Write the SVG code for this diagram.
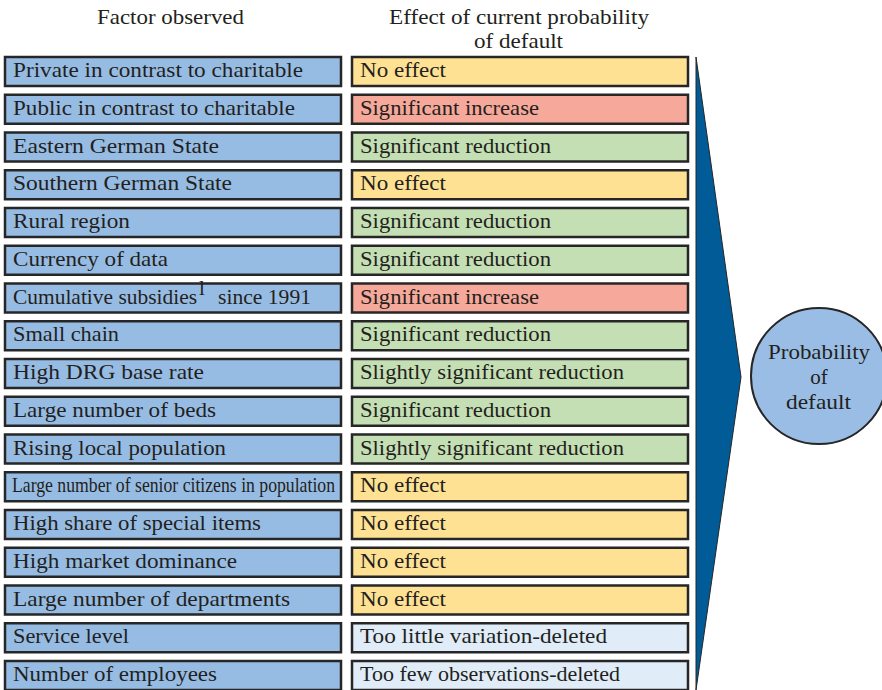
<svg xmlns="http://www.w3.org/2000/svg" width="882" height="690" viewBox="0 0 882 690">
<style>
text{font-family:"Liberation Serif","Times New Roman","DejaVu Serif",serif;font-size:21px;fill:#231f20}
.b{stroke:#262626;stroke-width:2.5}
.f{fill:#97bce3}.y{fill:#ffe194}.r{fill:#f6a99b}.g{fill:#c5dfb4}.l{fill:#e0ecf7}
.h{text-anchor:middle}
</style>
<rect width="882" height="690" fill="#fff"/>
<text class="h" x="170.5" y="24" textLength="147" lengthAdjust="spacingAndGlyphs">Factor observed</text>
<text class="h" x="519" y="24" textLength="260" lengthAdjust="spacingAndGlyphs">Effect of current probability</text>
<text class="h" x="518.5" y="48" textLength="89" lengthAdjust="spacingAndGlyphs">of default</text>
<g id="connectors">
<path d="M696,57 L741,377 L696,690 Z" fill="#005b96" stroke="#262626" stroke-width="1"/>
</g>
<g id="rows">
<g id="r1"><rect class="b f" x="5" y="57" width="336" height="29"/><text x="13" y="77" textLength="290" lengthAdjust="spacingAndGlyphs">Private in contrast to charitable</text><rect class="b y" x="352" y="57" width="336" height="29"/><text x="360" y="77" textLength="86" lengthAdjust="spacingAndGlyphs">No effect</text></g>
<g id="r2"><rect class="b f" x="5" y="94.75" width="336" height="29"/><text x="13" y="114.75" textLength="282" lengthAdjust="spacingAndGlyphs">Public in contrast to charitable</text><rect class="b r" x="352" y="94.75" width="336" height="29"/><text x="360" y="114.75" textLength="179" lengthAdjust="spacingAndGlyphs">Significant increase</text></g>
<g id="r3"><rect class="b f" x="5" y="132.5" width="336" height="29"/><text x="13" y="152.5" textLength="206" lengthAdjust="spacingAndGlyphs">Eastern German State</text><rect class="b g" x="352" y="132.5" width="336" height="29"/><text x="360" y="152.5" textLength="191" lengthAdjust="spacingAndGlyphs">Significant reduction</text></g>
<g id="r4"><rect class="b f" x="5" y="170.25" width="336" height="29"/><text x="13" y="190.25" textLength="219" lengthAdjust="spacingAndGlyphs">Southern German State</text><rect class="b y" x="352" y="170.25" width="336" height="29"/><text x="360" y="190.25" textLength="86" lengthAdjust="spacingAndGlyphs">No effect</text></g>
<g id="r5"><rect class="b f" x="5" y="208" width="336" height="29"/><text x="13" y="228" textLength="117" lengthAdjust="spacingAndGlyphs">Rural region</text><rect class="b g" x="352" y="208" width="336" height="29"/><text x="360" y="228" textLength="191" lengthAdjust="spacingAndGlyphs">Significant reduction</text></g>
<g id="r6"><rect class="b f" x="5" y="245.75" width="336" height="29"/><text x="13" y="265.75" textLength="155" lengthAdjust="spacingAndGlyphs">Currency of data</text><rect class="b g" x="352" y="245.75" width="336" height="29"/><text x="360" y="265.75" textLength="191" lengthAdjust="spacingAndGlyphs">Significant reduction</text></g>
<g id="r7"><rect class="b f" x="5" y="283.5" width="336" height="29"/><text x="13" y="303.5" textLength="184" lengthAdjust="spacingAndGlyphs">Cumulative subsidies</text><text x="199" y="295" font-size="10">l</text><text x="218" y="303.5" textLength="93" lengthAdjust="spacingAndGlyphs">since 1991</text><rect class="b r" x="352" y="283.5" width="336" height="29"/><text x="360" y="303.5" textLength="179" lengthAdjust="spacingAndGlyphs">Significant increase</text></g>
<g id="r8"><rect class="b f" x="5" y="321.25" width="336" height="29"/><text x="13" y="341.25" textLength="106" lengthAdjust="spacingAndGlyphs">Small chain</text><rect class="b g" x="352" y="321.25" width="336" height="29"/><text x="360" y="341.25" textLength="191" lengthAdjust="spacingAndGlyphs">Significant reduction</text></g>
<g id="r9"><rect class="b f" x="5" y="359" width="336" height="29"/><text x="13" y="379" textLength="191" lengthAdjust="spacingAndGlyphs">High DRG base rate</text><rect class="b g" x="352" y="359" width="336" height="29"/><text x="360" y="379" textLength="264" lengthAdjust="spacingAndGlyphs">Slightly significant reduction</text></g>
<g id="r10"><rect class="b f" x="5" y="396.75" width="336" height="29"/><text x="13" y="416.75" textLength="203" lengthAdjust="spacingAndGlyphs">Large number of beds</text><rect class="b g" x="352" y="396.75" width="336" height="29"/><text x="360" y="416.75" textLength="191" lengthAdjust="spacingAndGlyphs">Significant reduction</text></g>
<g id="r11"><rect class="b f" x="5" y="434.5" width="336" height="29"/><text x="13" y="454.5" textLength="213" lengthAdjust="spacingAndGlyphs">Rising local population</text><rect class="b g" x="352" y="434.5" width="336" height="29"/><text x="360" y="454.5" textLength="264" lengthAdjust="spacingAndGlyphs">Slightly significant reduction</text></g>
<g id="r12"><rect class="b f" x="5" y="472.25" width="336" height="29"/><text x="12" y="492.25" font-size="19" textLength="323" lengthAdjust="spacingAndGlyphs">Large number of senior citizens in population</text><rect class="b y" x="352" y="472.25" width="336" height="29"/><text x="360" y="492.25" textLength="86" lengthAdjust="spacingAndGlyphs">No effect</text></g>
<g id="r13"><rect class="b f" x="5" y="510" width="336" height="29"/><text x="13" y="530" textLength="248" lengthAdjust="spacingAndGlyphs">High share of special items</text><rect class="b y" x="352" y="510" width="336" height="29"/><text x="360" y="530" textLength="86" lengthAdjust="spacingAndGlyphs">No effect</text></g>
<g id="r14"><rect class="b f" x="5" y="547.75" width="336" height="29"/><text x="13" y="567.75" textLength="224" lengthAdjust="spacingAndGlyphs">High market dominance</text><rect class="b y" x="352" y="547.75" width="336" height="29"/><text x="360" y="567.75" textLength="86" lengthAdjust="spacingAndGlyphs">No effect</text></g>
<g id="r15"><rect class="b f" x="5" y="585.5" width="336" height="29"/><text x="13" y="605.5" textLength="277" lengthAdjust="spacingAndGlyphs">Large number of departments</text><rect class="b y" x="352" y="585.5" width="336" height="29"/><text x="360" y="605.5" textLength="86" lengthAdjust="spacingAndGlyphs">No effect</text></g>
<g id="r16"><rect class="b f" x="5" y="623.25" width="336" height="29"/><text x="13" y="643.25" textLength="116" lengthAdjust="spacingAndGlyphs">Service level</text><rect class="b l" x="352" y="623.25" width="336" height="29"/><text x="360" y="643.25" textLength="247" lengthAdjust="spacingAndGlyphs">Too little variation-deleted</text></g>
<g id="r17"><rect class="b f" x="5" y="661" width="336" height="29"/><text x="13" y="681" textLength="204" lengthAdjust="spacingAndGlyphs">Number of employees</text><rect class="b l" x="352" y="661" width="336" height="29"/><text x="360" y="681" textLength="260" lengthAdjust="spacingAndGlyphs">Too few observations-deleted</text></g>
</g>
<g id="pd">
<circle cx="819" cy="376" r="68" fill="#99bde4" stroke="#262626" stroke-width="2"/>
<text class="h" x="819" y="359" textLength="102" lengthAdjust="spacingAndGlyphs">Probability</text>
<text class="h" x="819" y="384">of</text>
<text class="h" x="818.5" y="409" textLength="65" lengthAdjust="spacingAndGlyphs">default</text>
</g>
</svg>
